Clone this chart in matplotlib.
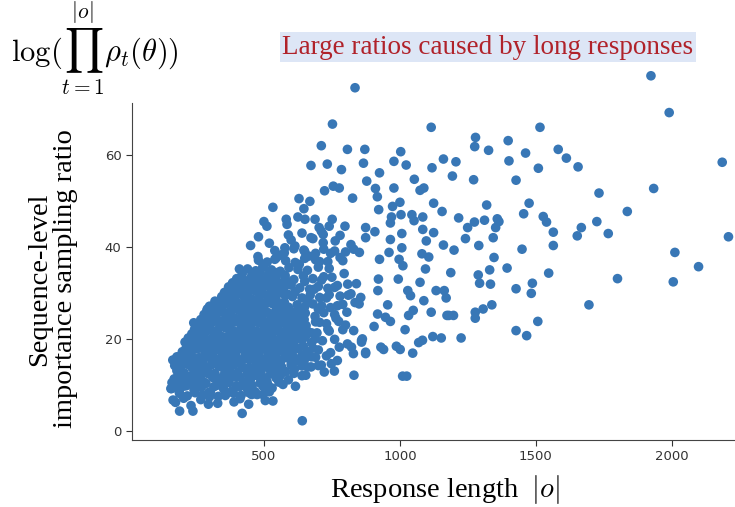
import matplotlib
matplotlib.use("Agg")
import matplotlib.pyplot as plt

# dense cluster of short responses
cluster_len = [
    175, 205, 232, 268, 300, 330, 358, 390, 412, 455, 505,
    160, 188, 214, 243, 270, 298, 327, 352, 383, 410, 440, 468, 497, 530, 570,
    170, 199, 228, 255, 283, 312, 340, 366, 395, 424, 452, 480, 511, 545, 590, 640,
    180, 207, 236, 262, 291, 320, 347, 375, 404, 433, 460, 489, 518, 548, 580, 612, 660, 700,
    165, 192, 220, 248, 276, 305, 333, 360, 388, 417, 445, 473, 502, 530, 560, 590, 622, 650, 690, 730,
    200, 226, 254, 283, 311, 339, 367, 396, 424, 452, 481, 509, 538, 566, 596, 626, 660, 700, 745,
    210, 238, 266, 294, 322, 350, 378, 407, 435, 463, 492, 520, 550, 578, 607, 640, 675, 715, 760,
    235, 262, 290, 318, 346, 375, 403, 431, 460, 488, 516, 545, 573, 602, 632, 662, 695, 740, 790,
    255, 283, 311, 339, 367, 396, 424, 452, 481, 509, 538, 566, 595, 625, 655, 690, 730, 775,
    280, 305, 333, 361, 390, 418, 446, 475, 503, 532, 560, 590, 620, 652, 688, 720, 760, 805,
    300, 330, 358, 386, 415, 443, 472, 500, 530, 558, 590, 622, 650, 680, 712, 745, 790, 835,
    345, 372, 400, 428, 457, 485, 514, 543, 575, 605, 640, 670, 705, 740, 780, 820,
    370, 398, 426, 455, 482, 510, 540, 572, 600, 632, 668, 700, 735, 770, 808,
    400, 430, 458, 487, 515, 545, 578, 610, 645, 680, 712, 750,
    440, 470, 500, 528, 560, 592, 625, 660, 700, 740,
    480, 512, 545, 580, 615, 650, 690, 735, 780,
    540, 575, 610, 650, 690, 720, 760, 800,
]
cluster_ratio = [
    6.2, 7.1, 5.5, 6.8, 7.4, 6.0, 7.7, 6.3, 7.0, 7.9, 6.6,
    9.2, 8.6, 9.8, 8.9, 9.5, 8.4, 9.9, 9.1, 8.7, 9.6, 9.0, 8.5, 9.7, 9.3, 10.1,
    11.3, 10.7, 11.8, 11.0, 10.5, 11.6, 11.2, 10.9, 11.7, 10.6, 11.4, 11.9, 10.8, 11.5, 11.1, 12.0,
    13.1, 12.6, 13.7, 12.9, 13.4, 12.5, 13.8, 13.0, 12.7, 13.5, 13.2, 12.8, 13.6, 13.1, 12.9, 13.4, 13.9, 14.2,
    15.4, 14.8, 15.9, 15.1, 14.6, 15.7, 15.2, 14.9, 15.8, 15.0, 15.5, 14.7, 15.6, 15.3, 14.9, 15.8, 15.2, 15.6, 16.0, 16.3,
    17.2, 16.7, 17.8, 17.0, 16.6, 17.5, 17.1, 16.8, 17.7, 17.3, 16.9, 17.6, 17.0, 17.4, 16.8, 17.9, 17.2, 17.6, 17.0,
    19.3, 18.7, 19.8, 19.0, 18.6, 19.6, 19.2, 18.9, 19.7, 19.1, 18.8, 19.5, 19.0, 19.4, 18.9, 19.8, 19.2, 19.6, 19.9,
    21.1, 20.6, 21.7, 21.0, 20.5, 21.6, 21.2, 20.8, 21.5, 21.0, 20.7, 21.8, 21.1, 21.4, 20.9, 21.6, 21.3, 21.7, 22.0,
    23.2, 22.7, 23.6, 23.0, 22.6, 23.7, 23.1, 22.9, 23.5, 23.0, 22.8, 23.6, 23.2, 23.4, 22.9, 23.7, 23.3, 23.8,
    25.3, 24.8, 25.7, 25.0, 24.6, 25.6, 25.2, 24.9, 25.8, 25.1, 24.7, 25.5, 25.2, 25.6, 24.9, 25.7, 25.3, 25.8,
    27.1, 26.7, 27.6, 27.0, 26.6, 27.5, 27.2, 26.8, 27.7, 27.1, 26.9, 27.4, 27.0, 27.6, 27.2, 26.8, 27.5, 27.9,
    29.2, 28.7, 29.6, 29.0, 28.6, 29.5, 29.1, 28.8, 29.7, 29.2, 28.9, 29.5, 29.0, 29.6, 29.3, 29.8,
    31.3, 30.8, 31.6, 31.0, 30.7, 31.5, 31.2, 30.9, 31.7, 31.1, 30.8, 31.4, 31.0, 31.6, 31.9,
    33.1, 32.7, 33.6, 33.0, 32.6, 33.5, 33.2, 32.9, 33.7, 33.1, 32.8, 33.4,
    35.2, 34.8, 35.6, 35.0, 34.7, 35.5, 35.1, 34.9, 35.6, 35.3,
    37.1, 36.7, 37.6, 37.0, 36.6, 37.5, 37.2, 36.8, 37.7,
    39.2, 38.7, 39.6, 39.0, 38.6, 39.5, 39.1, 38.9,
]

# extra rows filling the solid core of the cluster
core_len = [
    190, 218, 247, 275, 303, 332, 360, 388, 416, 445, 475, 520,
    175, 203, 231, 259, 287, 316, 344, 372, 400, 429, 457, 486, 515, 555,
    185, 213, 241, 269, 297, 326, 354, 382, 410, 439, 467, 496, 525, 560, 610,
    172, 194, 222, 250, 278, 306, 334, 362, 390, 419, 447, 476, 504, 534, 565, 600, 640,
    180, 206, 234, 262, 290, 319, 347, 375, 403, 431, 459, 488, 516, 545, 575, 608, 640, 675,
    215, 240, 268, 297, 325, 353, 381, 410, 438, 466, 495, 523, 552, 582, 612, 645, 680,
    222, 250, 278, 306, 334, 362, 390, 418, 447, 475, 504, 532, 561, 590, 620, 652, 688,
    245, 274, 302, 330, 358, 387, 415, 443, 472, 500, 528, 557, 585, 615, 645,
    268, 295, 323, 351, 380, 408, 436, 464, 492, 521, 550, 578, 608, 640,
    290, 318, 346, 374, 402, 430, 458, 487, 516, 545, 575, 605,
    320, 345, 372, 400, 428, 457, 486, 515, 545, 575,
    355, 385, 412, 440, 468, 497, 526, 556, 588,
    385, 414, 442, 470, 500, 530, 560, 592,
    420, 455, 485, 515, 545, 578,
]
core_ratio = [
    8.1, 7.6, 8.3, 7.8, 8.4, 7.5, 8.0, 8.2, 7.7, 8.3, 7.9, 8.5,
    10.2, 9.7, 10.4, 9.9, 10.3, 9.6, 10.1, 10.5, 9.8, 10.2, 9.9, 10.4, 10.0, 10.6,
    12.1, 11.7, 12.3, 11.9, 12.4, 11.6, 12.2, 12.0, 11.8, 12.3, 12.1, 11.7, 12.4, 12.0, 12.5,
    14.2, 13.8, 14.4, 14.0, 13.7, 14.3, 14.1, 13.9, 14.4, 14.0, 13.8, 14.3, 14.1, 14.2, 13.9, 14.4, 14.1,
    16.1, 15.7, 16.4, 15.9, 16.2, 15.8, 16.3, 16.0, 15.7, 16.4, 16.1, 15.8, 16.3, 16.0, 15.9, 16.2, 16.4, 16.1,
    18.2, 17.8, 18.4, 18.0, 17.7, 18.3, 18.1, 17.9, 18.4, 18.0, 17.8, 18.3, 18.1, 18.2, 17.9, 18.4, 18.0,
    20.2, 19.8, 20.4, 20.0, 19.7, 20.3, 20.1, 19.9, 20.4, 20.0, 19.8, 20.3, 20.1, 20.2, 19.9, 20.4, 20.0,
    22.1, 21.7, 22.3, 21.9, 22.4, 21.8, 22.2, 22.0, 21.7, 22.3, 22.1, 21.8, 22.4, 22.0, 22.2,
    24.2, 23.8, 24.4, 24.0, 23.7, 24.3, 24.1, 23.9, 24.4, 24.0, 23.8, 24.3, 24.1, 24.2,
    26.1, 25.7, 26.3, 25.9, 26.4, 25.8, 26.2, 26.0, 25.7, 26.3, 26.1, 25.8,
    28.2, 27.8, 28.4, 28.0, 27.7, 28.3, 28.1, 27.9, 28.4, 28.0,
    30.1, 29.7, 30.3, 29.9, 30.4, 29.8, 30.2, 30.0, 29.7,
    32.2, 31.8, 32.4, 32.0, 31.7, 32.3, 32.1, 31.9,
    34.1, 33.7, 34.3, 33.9, 34.4, 33.8,
]

# looser band between 600 and 850 tokens
mid_len = [
    620, 648, 676, 705, 735, 765, 800, 830,
    630, 660, 700, 730, 770, 810, 850,
    615, 650, 685, 720, 760, 795, 840,
    630, 665, 705, 745, 790, 830,
    600, 640, 680, 740, 780, 820,
    560, 590, 520, 480, 500,
]
mid_ratio = [
    22.5, 24.2, 21.3, 23.6, 22.1, 24.5, 23.0, 21.8,
    26.0, 28.3, 26.5, 28.9, 27.2, 29.5, 27.6,
    30.2, 32.5, 30.8, 33.5, 31.2, 34.2, 32.0,
    36.2, 38.0, 36.8, 38.6, 37.0, 39.5,
    41.5, 43.0, 41.8, 44.5, 42.5, 40.5,
    38.2, 42.6, 40.8, 42.2, 45.5,
]

# scattered points outside the dense cluster
tail_len = [
    2208, 2185, 2098, 2011, 2005, 1990, 1933, 1836, 1800, 1766, 1732, 1724,
    1695, 1667, 1652, 1655, 1612, 1582, 1564, 1564, 1547, 1539, 1527, 1515,
    1509, 1507, 1487, 1483, 1475, 1462, 1466, 1455, 1449, 1427, 1427, 1427,
    1401, 1398, 1394, 1364, 1358, 1352, 1346, 1343, 1338, 1333, 1330, 1326,
    1319, 1311, 1306, 1290, 1293, 1288, 1278, 1275, 1277, 1274, 1271, 1277,
    1249, 1241, 1225, 1216, 1206, 1197, 1199, 1193, 1187, 1180, 1173, 1160,
    1160, 1155, 1152, 1170, 1163, 1133, 1124, 1124, 1118, 1115, 1115, 1121,
    1106, 1097, 1094, 1088, 1084, 1081, 1084, 1083, 1088, 1074, 1074, 1069,
    1053, 1052, 1049, 1047, 1044, 1039, 1032, 1029, 1025, 1010, 1019, 1023,
    1003, 1000, 1004, 1007, 1007, 1011, 997, 994, 1001, 987, 978, 978,
    973, 969, 965, 965, 960, 965, 955, 947, 940, 930, 925, 918,
    919, 921, 925, 922, 917, 910, 908, 905, 878, 874, 874, 874,
    871, 866, 862, 859, 856, 851, 831, 826, 807, 785, 777, 755,
    752, 751, 733, 723, 711, 711, 673, 669, 647, 629, 533, 511,
    451, 410, 540, 582, 585, 625, 651, 688, 703, 718, 798, 762,
    718, 577, 614, 673, 647, 641, 420, 190, 239, 166, 296, 444,
    533, 496, 616, 654, 759, 722, 162, 158, 195, 242, 248, 292,
    312, 359, 384, 478, 496, 874, 829, 822, 859, 807, 777, 770,
    748, 711, 673, 835, 1923,
]
tail_ratio = [
    42.2, 58.4, 35.7, 38.8, 32.4, 69.2, 52.7, 47.7, 33.1, 42.9, 51.7, 45.5,
    27.4, 44.2, 42.4, 57.4, 59.3, 61.2, 43.2, 40.3, 34.3, 45.4, 46.6, 66.0,
    57.1, 23.8, 32.1, 29.9, 49.5, 60.4, 20.7, 47.2, 39.5, 21.8, 54.5, 30.9,
    58.7, 63.1, 35.4, 45.5, 46.1, 44.2, 37.7, 42.0, 27.4, 31.9, 35.0, 61.0,
    49.1, 45.8, 26.5, 40.3, 32.1, 33.9, 63.8, 61.8, 24.5, 45.4, 54.6, 25.8,
    44.2, 41.8, 20.2, 46.3, 58.5, 25.1, 39.3, 55.4, 34.4, 25.1, 25.1, 59.1,
    40.4, 47.7, 20.2, 28.9, 30.5, 30.5, 49.5, 43.1, 57.2, 66.0, 25.8, 20.5,
    37.8, 41.3, 35.2, 28.3, 43.8, 38.5, 46.5, 19.7, 52.8, 52.3, 32.3, 19.2,
    54.7, 45.7, 26.2, 16.9, 47.0, 29.4, 25.1, 30.5, 11.9, 11.9, 22.0, 57.8,
    60.7, 49.7, 47.0, 42.9, 39.8, 35.9, 37.3, 33.0, 17.7, 18.4, 58.6, 52.8,
    48.8, 46.5, 41.6, 45.2, 38.8, 23.8, 27.4, 24.7, 17.7, 18.2, 56.1, 25.4,
    30.5, 33.0, 37.3, 48.1, 50.9, 52.7, 43.3, 22.7, 54.3, 42.0, 44.2, 17.1,
    61.2, 58.2, 20.0, 19.7, 29.0, 38.8, 12.1, 50.6, 61.2, 56.8, 52.8, 53.2,
    66.7, 46.0, 58.0, 52.2, 62.0, 43.4, 57.7, 49.9, 48.3, 50.5, 48.6, 44.5,
    40.3, 35.2, 37.3, 46.0, 44.9, 46.5, 46.0, 46.0, 44.2, 42.7, 44.5, 41.3,
    40.9, 39.8, 40.2, 42.0, 39.3, 2.2, 3.8, 4.3, 4.3, 6.7, 5.8, 5.8,
    6.5, 7.9, 9.7, 12.1, 13.0, 12.8, 10.5, 9.2, 16.3, 23.5, 21.1, 26.5,
    27.2, 30.1, 31.9, 37.9, 35.7, 16.8, 16.8, 18.2, 19.3, 18.9, 18.2, 15.3,
    14.6, 14.3, 13.9, 74.6, 77.2,
]

y_ticks = [0, 20, 40, 60]
x_ticks = [500, 1000, 1500, 2000]

lengths = cluster_len + core_len + mid_len + tail_len
ratios = cluster_ratio + core_ratio + mid_ratio + tail_ratio

plt.rcParams['mathtext.fontset'] = 'cm'

fig = plt.figure(figsize=(7.35, 5.07), dpi=100)
ax = fig.add_axes([0.1796, 0.132, 0.8204, 0.665])

ax.scatter(lengths, ratios, s=48, color='#3877b6', edgecolors='none',
           clip_on=False, zorder=3)

ax.set_xlim(15, 2232)
ax.set_ylim(-2, 71.3)
ax.set_xticks(x_ticks)
ax.set_yticks(y_ticks)
ax.tick_params(labelsize=9.5, colors='#333333', length=4)
for side in ['top', 'right']:
    ax.spines[side].set_visible(False)
for side in ['left', 'bottom']:
    ax.spines[side].set_color('#444444')

# axis titles
fig.text(0.071, 0.45, 'Sequence-level\nimportance sampling ratio',
         rotation=90, ha='center', va='center', fontsize=20.5,
         family='Liberation Serif', linespacing=1.05)
fig.text(0.606, 0.034, r'Response length  $|o|$', ha='center',
         va='center', fontsize=20.5, family='Liberation Serif')

# formula top left
fig.text(0.015, 0.905, r'$\log(\prod_{t=1}^{|o|}\rho_t(\theta))$',
         ha='left', va='center', fontsize=22)

# annotation
fig.text(0.664, 0.907, 'Large ratios caused by long responses',
         ha='center', va='center', fontsize=19.5, color='#b0222a',
         family='Liberation Serif',
         bbox=dict(boxstyle='square,pad=0.08', facecolor='#dde6f6',
                   edgecolor='none'))

fig.savefig('out.png', dpi=100)
